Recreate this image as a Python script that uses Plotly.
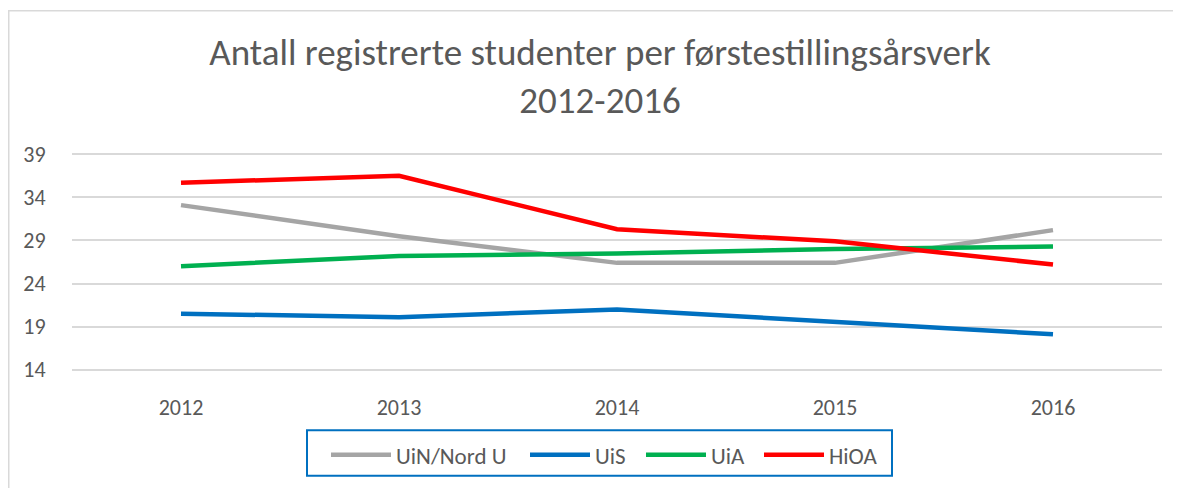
import plotly.graph_objects as go

years = ["2012", "2013", "2014", "2015", "2016"]
uin = [33.1, 29.5, 26.4, 26.4, 30.2]
uis = [20.5, 20.1, 21.0, 19.6, 18.1]
uia = [26.0, 27.2, 27.5, 28.0, 28.3]
hioa = [35.7, 36.5, 30.3, 28.9, 26.2]

series = [
    ("UiN/Nord U", uin, "#A5A5A5"),
    ("UiS", uis, "#0070C0"),
    ("UiA", uia, "#00B050"),
    ("HiOA", hioa, "#FF0000"),
]

# page has an 8px body margin: figure coords = picture coords - 8
OFF = 8
W, H = 1173, 480
L, R, T, B = 64, 19, 142, 111
pw, ph = W - L - R, H - T - B

def px_x(xp):
    return (xp - OFF - L) / pw

def px_y(yp):
    return (H - B - (yp - OFF)) / ph

legend_starts = [332, 531, 647, 765]

fig = go.Figure()
fnt = "Calibri, Carlito, Lato, sans-serif"
legend_layouts = {}
for i, (name, vals, col) in enumerate(series):
    key = "legend" if i == 0 else f"legend{i + 1}"
    fig.add_trace(go.Scatter(x=years, y=vals, name=name, mode="lines",
                             line=dict(color=col, width=4.5), legend=key))
    legend_layouts[key] = dict(orientation="h", x=px_x(legend_starts[i] - 6),
                               xanchor="left", y=px_y(437), yanchor="top",
                               font=dict(size=23, color="#595959", family=fnt),
                               itemwidth=60, bgcolor="rgba(0,0,0,0)",
                               borderwidth=0)

fig.update_layout(
    width=W, height=H,
    margin=dict(l=L, r=R, t=T, b=B),
    paper_bgcolor="white", plot_bgcolor="white",
    font=dict(family=fnt, color="#595959", size=22),
    title=dict(text="Antall registrerte studenter per førstestillingsårsverk<br>2012-2016",
               x=592 / W, xanchor="center", xref="container",
               y=1 - 57 / H, yanchor="top", yref="container",
               font=dict(size=37, color="#595959", family=fnt, weight=300)),
    xaxis=dict(type="category", range=[-0.5, 4.5], showgrid=False, showline=False,
               ticks="outside", ticklen=14, tickcolor="rgba(0,0,0,0)",
               tickfont=dict(size=22)),
    yaxis=dict(range=[13.5, 39.5], tickvals=[14, 19, 24, 29, 34, 39], showgrid=True,
               gridcolor="#D9D9D9", gridwidth=1.5, zeroline=False, showline=False,
               ticks="outside", ticklen=21, tickcolor="rgba(0,0,0,0)",
               tickfont=dict(size=22)),
    showlegend=True,
    shapes=[
        dict(type="rect", xref="paper", yref="paper",
             x0=(0.75 - L) / pw, x1=(1169 - L) / pw,
             y0=(H - B - 500) / ph, y1=(H - B - 1) / ph,
             line=dict(color="#D9D9D9", width=1.5), layer="below"),
        dict(type="rect", xref="paper", yref="paper",
             x0=px_x(307), x1=px_x(892), y0=px_y(480), y1=px_y(434),
             line=dict(color="#0070C0", width=2), layer="below"),
    ],
    **legend_layouts,
)

fig.write_html("out.html")
